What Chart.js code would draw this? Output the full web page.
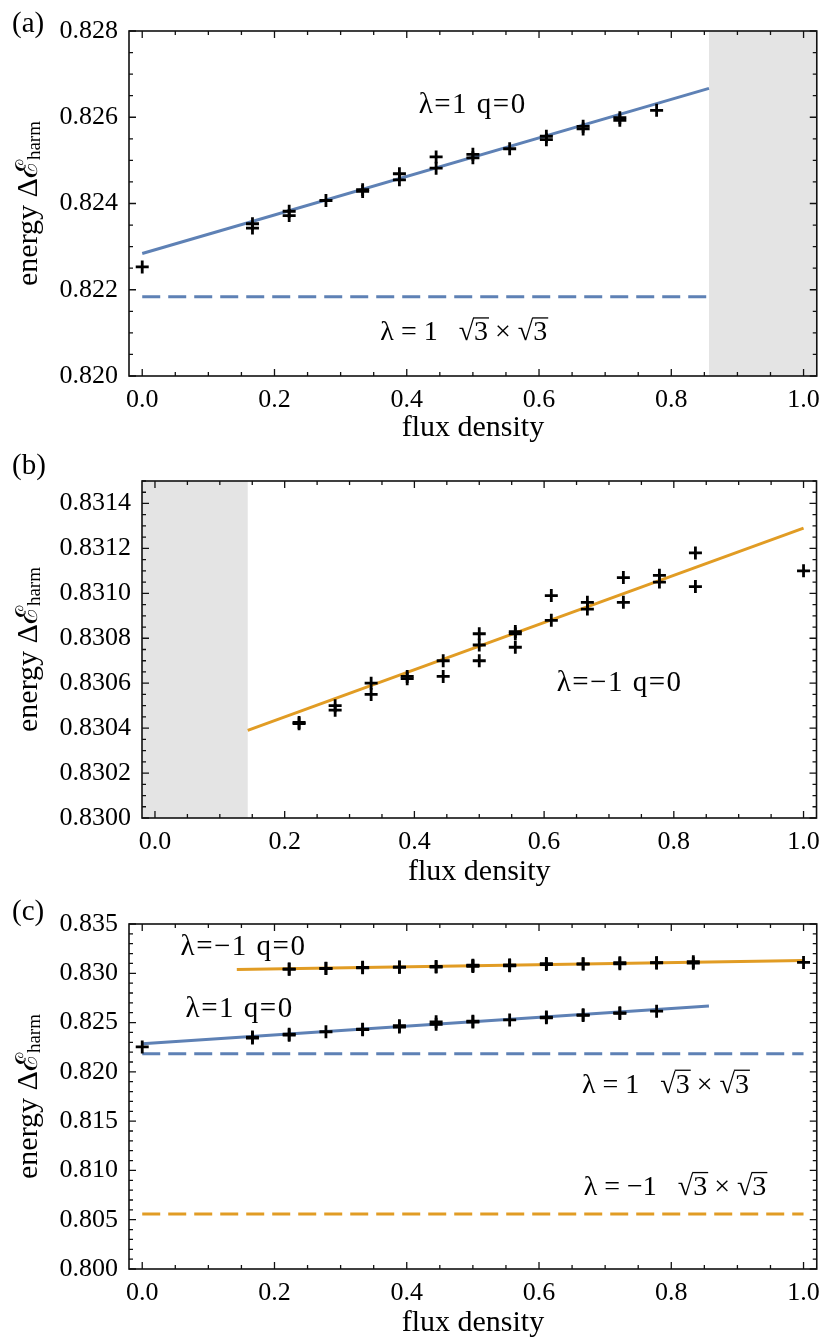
<!DOCTYPE html>
<html><head><meta charset="utf-8">
<script src="https://cdn.jsdelivr.net/npm/chart.js@4.4.1/dist/chart.umd.min.js"></script>
<style>
html,body{margin:0;padding:0;background:#fff;}
body{width:829px;height:1343px;position:relative;overflow:hidden;}
canvas{position:absolute;left:0;}
</style></head><body>
<canvas id="ca" width="829" height="450" style="top:0px"></canvas>
<canvas id="cb" width="829" height="450" style="top:440px"></canvas>
<canvas id="cc" width="829" height="493" style="top:850px"></canvas>
<script>
// ---------- data ----------
const fluxBlue   = [0, 0.1667, 0.1667, 0.2222, 0.2222, 0.2778, 0.3333, 0.3333, 0.3889, 0.3889, 0.4444, 0.4444, 0.5, 0.5, 0.5556, 0.6111, 0.6111, 0.6667, 0.6667, 0.7222, 0.7222, 0.7778];
const energyBlue = [0.82253, 0.82353, 0.82343, 0.82382, 0.82372, 0.82407, 0.82432, 0.82428, 0.82469, 0.82455, 0.82508, 0.82482, 0.82514, 0.82506, 0.82527, 0.82556, 0.82548, 0.82579, 0.82573, 0.82599, 0.82593, 0.82616];
const fluxOrange   = [0.2222, 0.2222, 0.2778, 0.2778, 0.3333, 0.3333, 0.3889, 0.3889, 0.4444, 0.4444, 0.5, 0.5, 0.5, 0.5556, 0.5556, 0.5556, 0.6111, 0.6111, 0.6667, 0.6667, 0.7222, 0.7222, 0.7778, 0.7778, 0.8333, 0.8333, 1.0];
const energyOrange = [0.83042, 0.830425, 0.83050, 0.83048, 0.83060, 0.83055, 0.83063, 0.83062, 0.83070, 0.83063, 0.83082, 0.83077, 0.83070, 0.83083, 0.83082, 0.83076, 0.83099, 0.83088, 0.83096, 0.83093, 0.83107, 0.83096, 0.83108, 0.83105, 0.83118, 0.83103, 0.83110];
const fitBlueFlux = [0, 0.857];
const fitBlueEnergy = [0.82284, 0.82667];
const fitOrangeFlux = [0.143, 1.0];
const fitOrangeEnergy = [0.83039, 0.83129];
const sqrtBlueEnergy = 0.82184;
const sqrtOrangeEnergy = 0.80558;
const sqrtFluxA = [0, 0.857];
const sqrtFluxC = [0, 1.0];
const shadeA = [0.857, 1.02];
const shadeB = [-0.02, 0.143];

const xTicks = [0, 0.2, 0.4, 0.6, 0.8, 1.0];
const xTickLabels = ['0.0', '0.2', '0.4', '0.6', '0.8', '1.0'];
const yTicksA = [0.820, 0.822, 0.824, 0.826, 0.828];
const yTickLabelsA = ['0.820', '0.822', '0.824', '0.826', '0.828'];
const yTicksB = [0.8300, 0.8302, 0.8304, 0.8306, 0.8308, 0.8310, 0.8312, 0.8314];
const yTickLabelsB = ['0.8300', '0.8302', '0.8304', '0.8306', '0.8308', '0.8310', '0.8312', '0.8314'];
const yTicksC = [0.800, 0.805, 0.810, 0.815, 0.820, 0.825, 0.830, 0.835];
const yTickLabelsC = ['0.800', '0.805', '0.810', '0.815', '0.820', '0.825', '0.830', '0.835'];

// ---------- styles ----------
const SERIF = '"Liberation Serif", "Times New Roman", serif';
const BLUE = '#5E81B5';
const ORANGE = '#E19C24';
const SHADE = '#e4e4e4';

const pts = (xs, ys) => xs.map((x, i) => ({x: x, y: ys[i]}));
const flat = (xs, v) => xs.map(x => ({x: x, y: v}));

const scatter = (xs, ys) => ({type: 'scatter', data: pts(xs, ys), pointStyle: 'cross', pointRadius: 6.5, pointBorderWidth: 2.8, borderColor: '#000', backgroundColor: '#000', order: 0});
const line = (data, color, dashed) => ({type: 'line', data: data, borderColor: color, borderWidth: 3, borderDash: dashed ? [18, 8] : [], pointRadius: 0, fill: false, order: 5});

function drawMath(ctx, x, base, parts, size) {
  ctx.font = size + 'px ' + SERIF;
  ctx.textBaseline = 'alphabetic';
  ctx.textAlign = 'left';
  ctx.fillStyle = '#000';
  let cx = x;
  for (const p of parts) {
    if (p.startsWith('√')) {
      const r = '√', d = p.slice(1);
      const m = ctx.measureText(r);
      ctx.fillText(r, cx, base);
      const top = base - m.actualBoundingBoxAscent;
      const rw = m.width;
      const dw = ctx.measureText(d).width;
      ctx.fillText(d, cx + rw, base);
      ctx.save();
      ctx.strokeStyle = '#000'; ctx.lineWidth = 1.3;
      ctx.beginPath(); ctx.moveTo(cx + rw - 1, top + 0.6); ctx.lineTo(cx + rw + dw + 1, top + 0.6); ctx.stroke();
      ctx.restore();
      cx += rw + dw;
    } else {
      ctx.fillText(p, cx, base);
      cx += ctx.measureText(p).width;
    }
  }
}

function makeDeco(o) {
  return {
    id: 'deco_' + o.name,
    beforeDatasetsDraw(chart) {
      const {ctx, chartArea: a, scales: {x}} = chart;
      if (o.shade) {
        const x0 = Math.max(a.left, x.getPixelForValue(o.shade[0]));
        const x1 = Math.min(a.right, x.getPixelForValue(o.shade[1]));
        ctx.save(); ctx.fillStyle = SHADE; ctx.fillRect(x0, a.top, x1 - x0, a.bottom - a.top); ctx.restore();
      }
    },
    afterDraw(chart) {
      const {ctx, chartArea: a, scales: {x, y}} = chart;
      ctx.save();
      ctx.strokeStyle = '#111';
      ctx.lineWidth = 1.3;
      const tick = (px, len, horiz) => {
        ctx.beginPath();
        if (horiz) {
          ctx.moveTo(px, a.bottom); ctx.lineTo(px, a.bottom - len);
          ctx.moveTo(px, a.top); ctx.lineTo(px, a.top + len);
        } else {
          ctx.moveTo(a.left, px); ctx.lineTo(a.left + len, px);
          ctx.moveTo(a.right, px); ctx.lineTo(a.right - len, px);
        }
        ctx.stroke();
      };
      for (let k = -1; k <= 21; k++) {
        const v = k * 0.05;
        if (v < x.min || v > x.max) continue;
        const major = k % 4 === 0;
        tick(x.getPixelForValue(v), major ? 7 : 4, true);
      }
      const nMinor = Math.round((o.yMax - o.yMin) / o.yMinor);
      for (let k = 0; k <= nMinor; k++) {
        const v = o.yMin + k * o.yMinor;
        const major = k % o.yMajorEvery === 0;
        tick(y.getPixelForValue(v), major ? 7 : 4, false);
      }
      ctx.lineWidth = 1.6;
      ctx.strokeRect(a.left, a.top, a.right - a.left, a.bottom - a.top);
      ctx.restore();

      // annotations
      ctx.save();
      for (const t of o.notes) {
        ctx.letterSpacing = (t.ls || 0) + 'px';
        drawMath(ctx, x.getPixelForValue(t.x), y.getPixelForValue(t.y), t.parts, t.size || 28);
      }
      ctx.letterSpacing = '0px';
      ctx.restore();

      // y title with subscript
      ctx.save();
      ctx.fillStyle = '#000';
      ctx.translate(37, (a.top + a.bottom) / 2);
      ctx.rotate(-Math.PI / 2);
      ctx.textBaseline = 'alphabetic'; ctx.textAlign = 'left';
      const f1 = '30px ' + SERIF, f2 = '19px ' + SERIF;
      ctx.font = f1; const w1 = ctx.measureText('energy Δℰ').width;
      ctx.font = f2; const w2 = ctx.measureText('harm').width;
      const x0 = -(w1 + w2) / 2;
      ctx.font = f1; ctx.fillText('energy Δℰ', x0, 0);
      ctx.font = f2; ctx.fillText('harm', x0 + w1, 3);
      ctx.restore();

      // panel label
      ctx.save();
      ctx.fillStyle = '#000'; ctx.font = '29px ' + SERIF; ctx.textBaseline = 'alphabetic'; ctx.textAlign = 'left';
      ctx.fillText(o.label, 12, o.labelBase);
      ctx.restore();
    }
  };
}

function panel(id, o) {
  return new Chart(document.getElementById(id), {
    data: {datasets: o.datasets},
    options: {
      responsive: false, animation: false, devicePixelRatio: 1,
      layout: {padding: {left: 0, top: o.area.top, right: 829 - o.area.right, bottom: o.H - o.axisBottom}},
      plugins: {legend: {display: false}, tooltip: {enabled: false}},
      scales: {
        x: {
          type: 'linear', min: -0.02, max: 1.02,
          afterBuildTicks: s => { s.ticks = xTicks.map(v => ({value: v})); },
          afterFit: s => { s.height = o.axisBottom - o.area.bottom; },
          grid: {display: false, drawTicks: false}, border: {display: false},
          ticks: {color: '#000', padding: 9, maxRotation: 0, autoSkip: false, font: {family: SERIF, size: 26},
                  callback: (v, i) => xTickLabels[i]},
          title: {display: true, text: 'flux density', color: '#000', padding: 0, font: {family: SERIF, size: 30}}
        },
        y: {
          type: 'linear', min: o.yMin, max: o.yMax,
          afterBuildTicks: s => { s.ticks = o.yTicks.map(v => ({value: v})); },
          afterFit: s => { s.width = o.area.left; },
          grid: {display: false, drawTicks: false}, border: {display: false},
          ticks: {color: '#000', padding: o.yPad, autoSkip: false, font: {family: SERIF, size: 26},
                  callback: (v, i) => o.yLabels[i]}
        }
      }
    },
    plugins: [makeDeco(o)]
  });
}

panel('ca', {
  name: 'a', H: 450, area: {left: 129, right: 819, top: 31, bottom: 376}, axisBottom: 446,
  yMin: 0.820, yMax: 0.828, yTicks: yTicksA, yLabels: yTickLabelsA, yMinor: 0.0005, yMajorEvery: 4, yPad: 11,
  shade: shadeA, label: '(a)', labelBase: 32,
  notes: [
    {x: 0.418, y: 0.82609, parts: ['λ=1 q=0'], ls: 1.5, size: 29},
    {x: 0.360, y: 0.820827, parts: ['λ = 1   ', '√3', ' × ', '√3'], ls: 0, size: 28}
  ],
  datasets: [
    scatter(fluxBlue, energyBlue),
    line(pts(fitBlueFlux, fitBlueEnergy), BLUE, false),
    line(flat(sqrtFluxA, sqrtBlueEnergy), BLUE, true)
  ]
});

panel('cb', {
  name: 'b', H: 450, area: {left: 142, right: 818, top: 41, bottom: 378}, axisBottom: 450,
  yMin: 0.8300, yMax: 0.8315, yTicks: yTicksB, yLabels: yTickLabelsB, yMinor: 0.00005, yMajorEvery: 4, yPad: 11,
  shade: shadeB, label: '(b)', labelBase: 34,
  notes: [
    {x: 0.6194, y: 0.830567, parts: ['λ=−1 q=0'], ls: 1.5, size: 29}
  ],
  datasets: [
    scatter(fluxOrange, energyOrange),
    line(pts(fitOrangeFlux, fitOrangeEnergy), ORANGE, false)
  ]
});

panel('cc', {
  name: 'c', H: 493, area: {left: 129, right: 818, top: 74, bottom: 419}, axisBottom: 491,
  yMin: 0.800, yMax: 0.835, yTicks: yTicksC, yLabels: yTickLabelsC, yMinor: 0.001, yMajorEvery: 5, yPad: 11,
  shade: null, label: '(c)', labelBase: 70,
  notes: [
    {x: 0.058, y: 0.83186, parts: ['λ=−1 q=0'], ls: 1.5, size: 29},
    {x: 0.0656, y: 0.82560, parts: ['λ=1 q=0'], ls: 1.5, size: 29},
    {x: 0.665, y: 0.81789, parts: ['λ = 1   ', '√3', ' × ', '√3'], ls: 0, size: 28},
    {x: 0.6675, y: 0.80751, parts: ['λ = −1   ', '√3', ' × ', '√3'], ls: 0, size: 28}
  ],
  datasets: [
    scatter(fluxBlue, energyBlue),
    scatter(fluxOrange, energyOrange),
    line(pts(fitOrangeFlux, fitOrangeEnergy), ORANGE, false),
    line(pts(fitBlueFlux, fitBlueEnergy), BLUE, false),
    line(flat(sqrtFluxC, sqrtBlueEnergy), BLUE, true),
    line(flat(sqrtFluxC, sqrtOrangeEnergy), ORANGE, true)
  ]
});
</script>
</body></html>
